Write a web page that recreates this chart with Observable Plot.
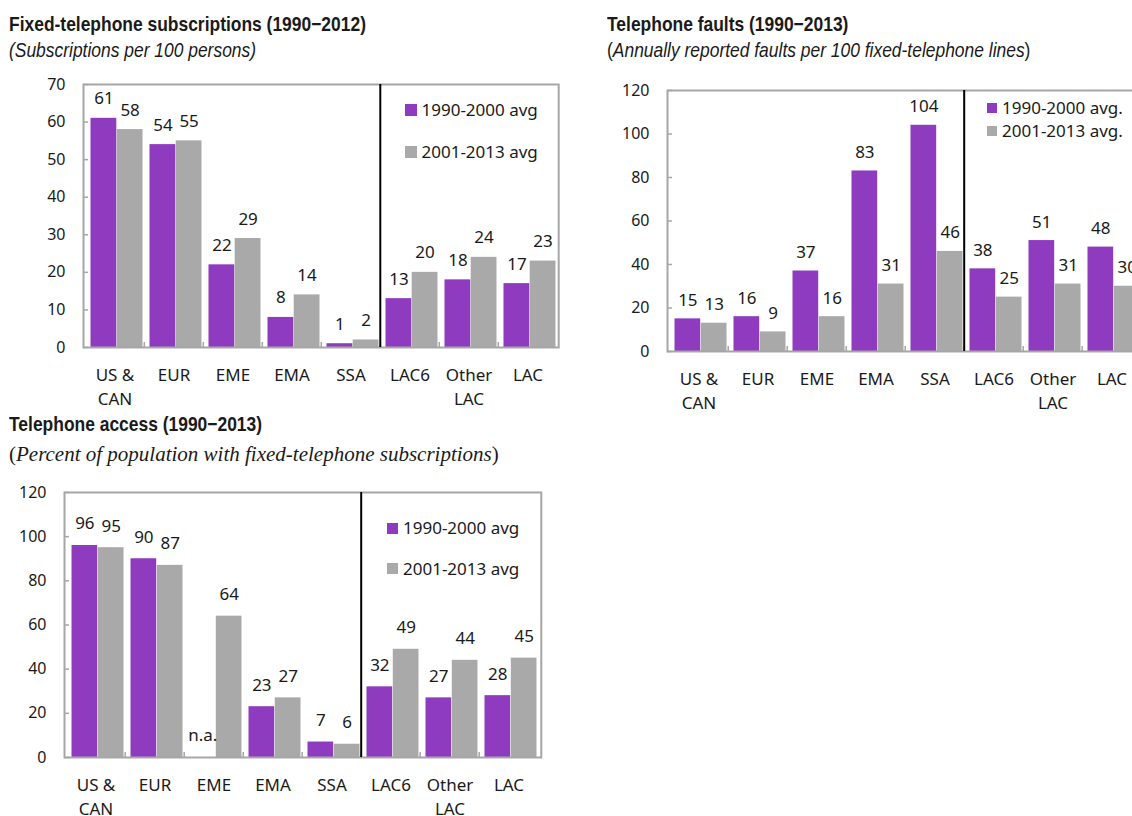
<!DOCTYPE html>
<html>
<head>
<meta charset="utf-8">
<script src="https://cdn.jsdelivr.net/npm/d3@7"></script>
<script src="https://cdn.jsdelivr.net/npm/@observablehq/plot@0.6"></script>
<style>
  html, body { margin: 0; padding: 0; background: #fff; }
  body { width: 1132px; height: 816px; overflow: hidden; position: relative; font-family: "Noto Sans", sans-serif; color: #1a1a1a; }
  .abs { position: absolute; white-space: nowrap; line-height: 1; }
  /* narrow headline face: Liberation Sans compressed horizontally */
  .title { font-family: "Liberation Sans", Arial, sans-serif; font-weight: bold; font-size: 21px; transform: scaleX(0.83); transform-origin: left top; }
  .sub { font-family: "Liberation Sans", Arial, sans-serif; font-size: 21px; transform: scaleX(0.83); transform-origin: left top; }
  .sub3 { font-family: "Liberation Serif", "Times New Roman", serif; font-size: 21px; }
  .chart { position: absolute; }
  .legend-row { position: absolute; display: flex; align-items: center; white-space: nowrap; font-size: 17px; line-height: 20px; height: 20px; }
  .swatch { display: inline-block; }
</style>
</head>
<body>
<script>
// Regions shown on every panel
const categories = ["US & CAN", "EUR", "EME", "EMA", "SSA", "LAC6", "Other LAC", "LAC"];
const categoryLabels = ["US &\nCAN", "EUR", "EME", "EMA", "SSA", "LAC6", "Other\nLAC", "LAC"];

// Fixed-telephone subscriptions per 100 persons
const subscriptionsEarly = [61, 54, 22, 8, 1, 13, 18, 17];
const subscriptionsLate = [58, 55, 29, 14, 2, 20, 24, 23];
const subscriptionTicks = [0, 10, 20, 30, 40, 50, 60, 70];

// Annually reported faults per 100 fixed-telephone lines
const faultsEarly = [15, 16, 37, 83, 104, 38, 51, 48];
const faultsLate = [13, 9, 16, 31, 46, 25, 31, 30];
const faultTicks = [0, 20, 40, 60, 80, 100, 120];

// Percent of population with fixed-telephone subscriptions (EME early period not available)
const accessEarly = [96, 90, null, 23, 7, 32, 27, 28];
const accessLate = [95, 87, 64, 27, 6, 49, 44, 45];
const accessTicks = [0, 20, 40, 60, 80, 100, 120];

const purple = "#8e3bbf";
const grey = "#a9a9a9";
const frameGrey = "#a6a6a6";
const ink = "#1a1a1a";

function addText(cls, left, top, html) {
  const d = document.createElement("div");
  d.className = "abs " + cls;
  d.style.left = left + "px";
  d.style.top = top + "px";
  d.innerHTML = html;
  document.body.appendChild(d);
}

function addLegend(left, centers, labels, square, fontSize) {
  const fills = [purple, grey];
  labels.forEach((label, i) => {
    const row = document.createElement("div");
    row.className = "legend-row";
    row.style.left = left + "px";
    row.style.top = (centers[i] - 10) + "px";
    row.style.fontSize = fontSize + "px";
    const sw = document.createElement("span");
    sw.className = "swatch";
    sw.style.width = square + "px";
    sw.style.height = square + "px";
    sw.style.background = fills[i];
    sw.style.marginRight = "5px";
    const tx = document.createElement("span");
    tx.textContent = label;
    row.appendChild(sw);
    row.appendChild(tx);
    document.body.appendChild(row);
  });
}

function panel({early, late, ticks, yMax, bandWidth, plotHeight, marginLeft, marginTop, marginBottom, labelDy, catPadding, left, top}) {
  const rows = categories.map((c, i) => ({category: c, early: early[i], late: late[i]}));
  const padL = 5.5, padR = 1.5;
  const barW = (bandWidth - padL - padR) / 2;
  const marginRight = 10;
  const width = marginLeft + bandWidth * categories.length + marginRight;
  const height = marginTop + plotHeight + marginBottom;
  const dxEarly = -bandWidth / 2 + padL + barW / 2;
  const dxLate = bandWidth / 2 - padR - barW / 2;
  const tickLen = 5;
  const chart = Plot.plot({
    width, height, marginLeft, marginRight, marginTop, marginBottom,
    style: {background: "transparent", maxWidth: "none", overflow: "visible", fontFamily: "Noto Sans, sans-serif", color: ink},
    x: {domain: categories, padding: 0, axis: null},
    y: {domain: [0, yMax], axis: null},
    marks: [
      Plot.barY(rows, {x: "category", y: "early", fill: purple, insetLeft: padL, insetRight: padR + barW}),
      Plot.barY(rows, {x: "category", y: "late", fill: grey, insetLeft: padL + barW, insetRight: padR}),
      // short marks at the category boundaries along the baseline
      Plot.ruleX(categories.slice(1), {x: d => d, dx: -bandWidth / 2, y1: 0, y2: yMax * tickLen / plotHeight, stroke: frameGrey, strokeWidth: 1.5}),
      // inward tick marks on the value axis
      Plot.axisY({ticks, tickSize: tickLen, dx: tickLen, tickFormat: () => "", label: null, stroke: frameGrey, strokeWidth: 1.5}),
      Plot.frame({stroke: frameGrey, strokeWidth: 2}),
      // divider between the world regions and the Latin American groups
      Plot.ruleX(["LAC6"], {dx: -bandWidth / 2, stroke: "#000", strokeWidth: 2}),
      Plot.axisY({ticks, tickSize: 0, tickPadding: 18, label: null, fontSize: 16, fill: ink}),
      Plot.axisX({tickSize: 0, tickPadding: catPadding, label: null, tickFormat: d => categoryLabels[categories.indexOf(d)], lineHeight: 1.4, fontSize: 17, fill: ink}),
      Plot.text(rows, {x: "category", y: d => d.early ?? 0, text: d => d.early == null ? "n.a." : String(d.early), dx: dxEarly, dy: labelDy, lineAnchor: "bottom", fontSize: 17, fill: ink}),
      Plot.text(rows, {x: "category", y: "late", text: d => String(d.late), dx: dxLate, dy: labelDy, lineAnchor: "bottom", fontSize: 17, fill: ink})
    ]
  });
  const wrap = document.createElement("div");
  wrap.className = "chart";
  wrap.style.left = left + "px";
  wrap.style.top = top + "px";
  wrap.appendChild(chart);
  document.body.appendChild(wrap);
}

// Fixed-telephone subscriptions
panel({early: subscriptionsEarly, late: subscriptionsLate, ticks: subscriptionTicks, yMax: 70,
  bandWidth: 59.4, plotHeight: 263, marginLeft: 83, marginTop: 24, marginBottom: 70,
  labelDy: -14, catPadding: 17, left: 0, top: 60});

// Telephone faults
panel({early: faultsEarly, late: faultsLate, ticks: faultTicks, yMax: 120,
  bandWidth: 59.6, plotHeight: 261, marginLeft: 67, marginTop: 24, marginBottom: 70,
  labelDy: -13, catPadding: 17, left: 600, top: 66});

// Telephone access
panel({early: accessEarly, late: accessLate, ticks: accessTicks, yMax: 120,
  bandWidth: 59.6, plotHeight: 265, marginLeft: 64, marginTop: 24, marginBottom: 59,
  labelDy: -16, catPadding: 17, left: 0, top: 468});

addText("title", 9, 13, "Fixed-telephone subscriptions (1990\u22122012)");
addText("sub", 9, 39, "<i>(Subscriptions per 100 persons)</i>");
addText("title", 607, 13, "Telephone faults (1990\u22122013)");
addText("sub", 607, 39, "(<i>Annually reported faults per 100 fixed-telephone lines</i>)");
addText("title", 9, 413, "Telephone access (1990\u22122013)");
addText("sub3", 9, 444, "(<i>Percent of population with fixed-telephone subscriptions</i>)");

addLegend(404.5, [110, 152], ["1990-2000 avg", "2001-2013 avg"], 12, 17);
addLegend(987, [108, 131], ["1990-2000 avg.", "2001-2013 avg."], 10, 17);
addLegend(387, [528, 568.5], ["1990-2000 avg", "2001-2013 avg"], 11, 17);
</script>
</body>
</html>
